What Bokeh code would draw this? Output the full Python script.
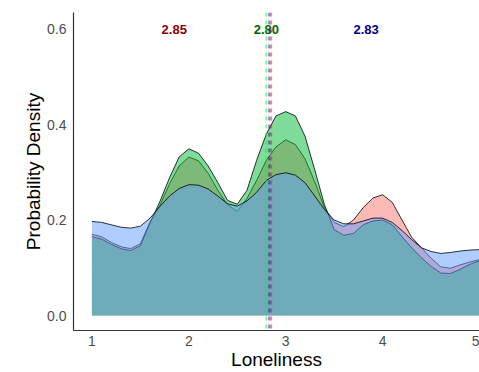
from bokeh.plotting import figure
from bokeh.models import Span, NumeralTickFormatter, FixedTicker, Range1d
from bokeh.core.properties import value
from bokeh.embed import file_html
from bokeh.resources import INLINE

# ---- data ----
x_grid = [1.0, 1.1, 1.2, 1.3, 1.4, 1.5, 1.6, 1.7, 1.8, 1.9,
          2.0, 2.1, 2.2, 2.3, 2.4, 2.5, 2.6, 2.7, 2.8, 2.9,
          3.0, 3.1, 3.2, 3.3, 3.4, 3.5, 3.6, 3.7, 3.8, 3.9,
          4.0, 4.1, 4.2, 4.3, 4.4, 4.5, 4.6, 4.7, 4.8, 4.9, 5.0]

dens_red = [0.170, 0.165, 0.153, 0.144, 0.140, 0.150, 0.196, 0.230, 0.275, 0.313,
            0.332, 0.324, 0.298, 0.262, 0.232, 0.218, 0.245, 0.283, 0.325, 0.353,
            0.368, 0.358, 0.328, 0.280, 0.226, 0.195, 0.186, 0.200, 0.226, 0.246,
            0.253, 0.237, 0.200, 0.164, 0.142, 0.120, 0.102, 0.099, 0.106, 0.112, 0.117]

dens_green = [0.165, 0.160, 0.149, 0.140, 0.136, 0.146, 0.194, 0.238, 0.288, 0.332,
              0.349, 0.340, 0.313, 0.278, 0.241, 0.233, 0.262, 0.325, 0.380, 0.418,
              0.427, 0.418, 0.375, 0.305, 0.232, 0.180, 0.168, 0.172, 0.190, 0.198,
              0.200, 0.190, 0.165, 0.142, 0.121, 0.103, 0.089, 0.088, 0.097, 0.107, 0.115]

dens_blue = [0.197, 0.195, 0.190, 0.185, 0.183, 0.187, 0.204, 0.228, 0.250, 0.266,
             0.274, 0.273, 0.265, 0.250, 0.234, 0.229, 0.240, 0.258, 0.283, 0.295,
             0.299, 0.294, 0.278, 0.250, 0.222, 0.200, 0.192, 0.192, 0.198, 0.204,
             0.204, 0.195, 0.178, 0.159, 0.142, 0.134, 0.130, 0.132, 0.135, 0.137, 0.138]

means = [2.85, 2.80, 2.83]
mean_labels = ["2.85", "2.80", "2.83"]
x_ticks = [1, 2, 3, 4, 5]
y_ticks = [0.0, 0.2, 0.4, 0.6]

fill_colors = ["#F8766D", "#00BA38", "#619CFF"]
line_colors = ["#FF0000", "#00FF00", "#0000FF"]
label_colors = ["#8B0000", "#006400", "#00008B"]
label_offsets = [-1.0, 0.0, 1.0]

p = figure(width=479, height=372, output_backend="svg", toolbar_location=None,
           x_range=Range1d(0.81, 5.0), y_range=Range1d(-0.0314, 0.6346),
           min_border_left=73, min_border_right=0, min_border_top=12,
           min_border_bottom=42)
p.background_fill_color = "white"
p.border_fill_color = "white"
p.outline_line_color = None
p.xgrid.visible = False
p.ygrid.visible = False

for dens, fc in zip([dens_red, dens_green, dens_blue], fill_colors):
    p.varea(x=x_grid, y1=[0] * len(x_grid), y2=dens, fill_color=fc, fill_alpha=0.5)
    p.line(x=x_grid, y=dens, line_color="black", line_width=0.8)

for m, lc in zip(means, line_colors):
    p.add_layout(Span(location=m, dimension="height", line_color=lc,
                      line_alpha=0.5, line_width=2, line_dash="4 4"))

p.text(x=[m + o for m, o in zip(means, label_offsets)], y=[0.6] * 3,
       text=mean_labels, text_color=label_colors,
       text_font=value("Liberation Sans"), text_font_style="bold",
       text_font_size="13px", text_align="center", text_baseline="middle")

for ax in (p.xaxis[0], p.yaxis[0]):
    ax.axis_line_color = "#333333"
    ax.axis_line_width = 1.2
    ax.major_tick_line_color = None
    ax.minor_tick_line_color = None
    ax.major_tick_out = 0
    ax.major_tick_in = 0
    ax.major_label_text_font = "Liberation Sans"
    ax.major_label_text_font_size = "14px"
    ax.major_label_text_color = "#4D4D4D"
    ax.major_label_text_line_height = 1.0
    ax.axis_label_text_font = "Liberation Sans"
    ax.axis_label_text_font_size = "19px"
    ax.axis_label_text_font_style = "normal"
    ax.axis_label_text_color = "black"
    ax.axis_label_text_line_height = 1.0

p.xaxis.ticker = FixedTicker(ticks=x_ticks)
p.yaxis.ticker = FixedTicker(ticks=y_ticks)
p.yaxis.formatter = NumeralTickFormatter(format="0.0")
p.xaxis.axis_label = "Loneliness"
p.yaxis.axis_label = "Probability Density"
p.xaxis.major_label_standoff = 5
p.yaxis.major_label_standoff = 7
p.xaxis.axis_label_standoff = 0
p.yaxis.axis_label_standoff = 0

open("out.html", "w").write(file_html(p, INLINE))
